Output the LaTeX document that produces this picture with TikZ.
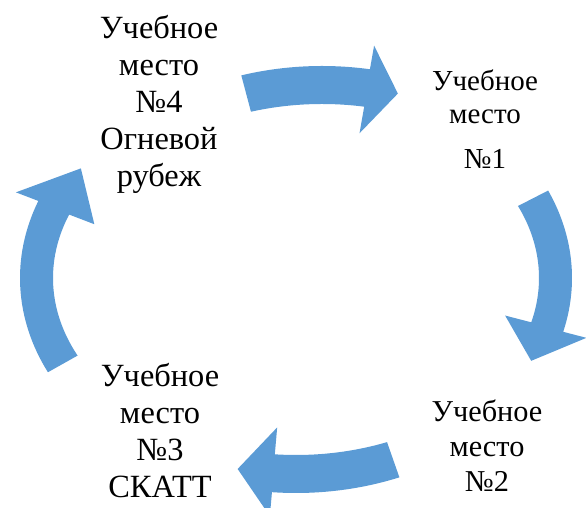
\documentclass[tikz,border=0pt]{standalone}
\usepackage{fontspec}
\setmainfont{Liberation Serif}
\usepackage{xcolor}
\usetikzlibrary{positioning}
\definecolor{cycleblue}{RGB}{91,155,213}

\begin{document}
\begin{tikzpicture}[x=1pt,y=1pt,
    place/.style={align=center,inner sep=0pt,anchor=north}]
    \useasboundingbox (0,0) rectangle (586,508);
    % curved block arrows: centre x / centre y / tail angle / joint angle / tip angle
    \foreach \cx/\cy/\tl/\jn/\tp in {322/227/107/80/73,296/230/24/-14.5/-25,296/230/-68/-95/-103,296/230/206/159/146}
    {
        \fill[cycleblue] ({\cx+276*cos(\tl)},{\cy+215*sin(\tl)})
            arc[start angle=\tl,end angle=\jn,x radius=276pt,y radius=215pt]
            -- ({\cx+300*cos(\jn)},{\cy+239*sin(\jn)})
            -- ({\cx+259.5*cos(\tp)},{\cy+196*sin(\tp)})
            -- ({\cx+216*cos(\jn)},{\cy+150*sin(\jn)})
            -- ({\cx+243*cos(\jn)},{\cy+177*sin(\jn)})
            arc[start angle=\jn,end angle=\tl,x radius=243pt,y radius=177pt]
            -- cycle;
    }
    \node[place,font=\fontsize{32.4}{37}\selectfont] (place4) at (159,493) {Учебное\\место\\№4\\Огневой\\рубеж};
    \node[place,font=\fontsize{29}{33}\selectfont] (place1) at (485,438) {Учебное\\место\\[12pt]№1};
    \node[place,font=\fontsize{30.3}{35}\selectfont] (place2) at (487,108) {Учебное\\место\\№2};
    \node[place,font=\fontsize{32.4}{37}\selectfont] (place3) at (160,145) {Учебное\\место\\№3\\СКАТТ};
\end{tikzpicture}
\end{document}
